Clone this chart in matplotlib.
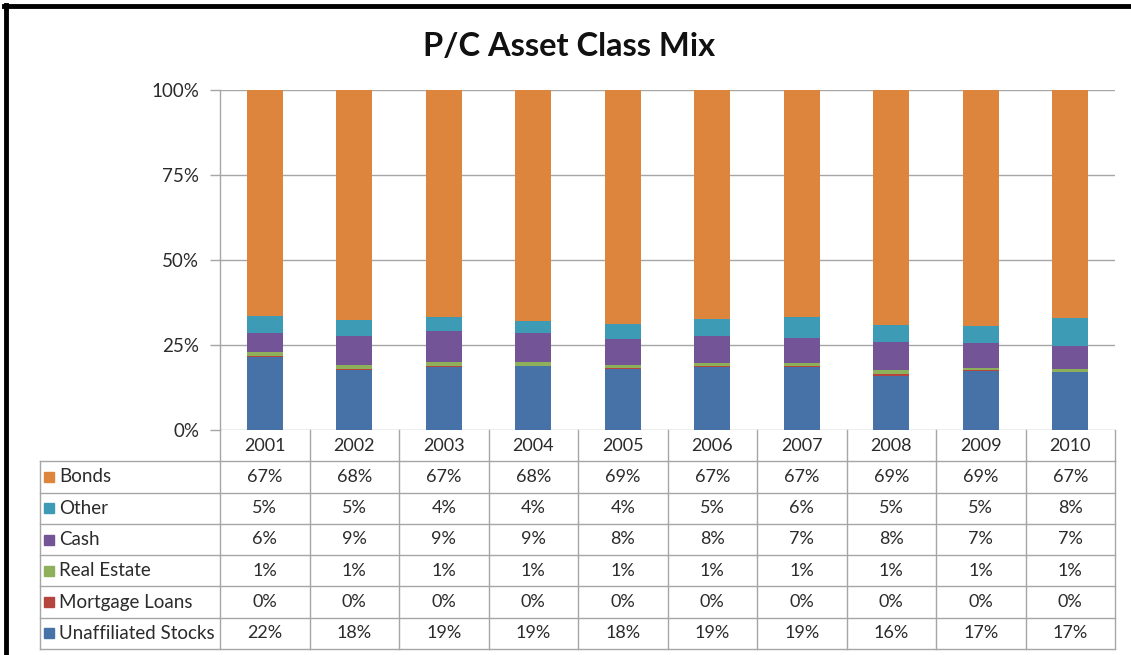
import matplotlib
matplotlib.use("Agg")
import matplotlib.pyplot as plt
import numpy as np
from matplotlib.lines import Line2D

# ---------------- data ----------------
years = ["2001", "2002", "2003", "2004", "2005", "2006", "2007", "2008", "2009", "2010"]
unaffiliated_stocks = [21.6, 17.7, 18.6, 18.8, 17.9, 18.6, 18.6, 16.0, 17.4, 17.0]
mortgage_loans      = [0.3, 0.2, 0.3, 0.2, 0.2, 0.2, 0.2, 0.4, 0.2, 0.2]
real_estate         = [1.0, 1.1, 1.2, 1.0, 0.9, 0.9, 0.9, 1.3, 0.7, 0.8]
cash                = [5.6, 8.8, 9.1, 8.6, 7.8, 8.1, 7.4, 8.1, 7.4, 6.7]
other               = [5.0, 4.7, 4.0, 3.7, 4.4, 4.9, 6.0, 5.2, 4.9, 8.2]
bonds               = [66.6, 67.6, 67.0, 68.1, 68.6, 67.4, 66.8, 69.1, 69.4, 67.3]

series_names = ["Unaffiliated Stocks", "Mortgage Loans", "Real Estate", "Cash", "Other", "Bonds"]
series_vals = [unaffiliated_stocks, mortgage_loans, real_estate, cash, other, bonds]
colors = ["#4672A8", "#B5443F", "#8FB05A", "#735597", "#3E9BB5", "#DE853D"]
yticks = [0, 25, 50, 75, 100]
ytick_labels = ["0%", "25%", "50%", "75%", "100%"]
title = "P/C Asset Class Mix"

FONT = ["Lato", "DejaVu Sans"]
plt.rcParams["font.family"] = FONT
TXT = "#2b2b2b"
GRID = "#A6A6A6"
FS = 13

W, H = 1131, 655
fig = plt.figure(figsize=(W / 100, H / 100), dpi=100)

def fx(px):
    return px / W

def fy(py):
    return 1 - py / H

# axes for bars
ax_l, ax_r, ax_t, ax_b = 220, 1115, 90, 430
ax = fig.add_axes([fx(ax_l), fy(ax_b), (ax_r - ax_l) / W, (ax_b - ax_t) / H])
x = np.arange(len(years))
data = np.array(series_vals, dtype=float)
totals = data.sum(axis=0)
pct = data / totals * 100
bottom = np.zeros(len(years))
for name, vals, col in zip(series_names, pct, colors):
    ax.bar(x, vals, bottom=bottom, width=0.4, color=col, label=name, zorder=3)
    bottom += vals

ax.set_xlim(-0.5, len(years) - 0.5)
ax.set_ylim(0, 100)
ax.set_yticks(yticks)
ax.set_yticklabels(ytick_labels, fontsize=13.5, color=TXT)
ax.set_xticks([])
ax.yaxis.grid(True, color=GRID, linewidth=1.0, zorder=0)
ax.tick_params(axis="y", length=7, width=1.0, color=GRID, pad=8)
for s in ["top", "right", "bottom"]:
    ax.spines[s].set_visible(False)
ax.spines["left"].set_color(GRID)
ax.spines["left"].set_linewidth(1.0)

# title
fig.text(fx(569), fy(46), title, ha="center", va="center", fontsize=23.5,
         fontweight="bold", color="#111111")

# data table
col_w = (ax_r - ax_l) / len(years)
tab_l, tab_t, tab_b = 40, 430, 649
tax = fig.add_axes([fx(tab_l), fy(tab_b), (ax_r - tab_l) / W, (tab_b - tab_t) / H])
xmin = -0.5 - (ax_l - tab_l) / col_w
nrows = len(series_names) + 1
tax.set_xlim(xmin, len(years) - 0.5)
tax.set_ylim(nrows, 0)
tax.axis("off")

def px2x(px):
    return xmin + (px - tab_l) / col_w

lw = 1.0
# header row verticals
for k in range(len(years) + 1):
    tax.add_line(Line2D([-0.5 + k, -0.5 + k], [0, 1], color=GRID, lw=lw, clip_on=False))
# body horizontals
for r in range(1, nrows + 1):
    tax.add_line(Line2D([xmin, len(years) - 0.5], [r, r], color=GRID, lw=lw, clip_on=False))
# body verticals
for xv in [xmin] + [-0.5 + k for k in range(len(years) + 1)]:
    tax.add_line(Line2D([xv, xv], [1, nrows], color=GRID, lw=lw, clip_on=False))

for i, yr in enumerate(years):
    tax.text(i, 0.5, yr, ha="center", va="center", fontsize=FS, color=TXT)

table_order = list(range(len(series_names)))[::-1]  # Bonds first
for r, si in enumerate(table_order, start=1):
    tax.plot([px2x(49)], [r + 0.5], marker="s", markersize=7, color=colors[si],
             linestyle="none", clip_on=False)
    tax.text(px2x(59), r + 0.5, series_names[si], ha="left", va="center",
             fontsize=13.5, color=TXT)
    for i in range(len(years)):
        tax.text(i, r + 0.5, f"{series_vals[si][i]:.0f}%", ha="center", va="center",
                 fontsize=FS, color=TXT)

# border (top and left)
fig.add_artist(Line2D([fx(4), fx(W)], [fy(6), fy(6)], color="black", lw=3.5,
                      transform=fig.transFigure))
fig.add_artist(Line2D([fx(5.5), fx(5.5)], [fy(4.5), fy(H)], color="black", lw=3.5,
                      transform=fig.transFigure))

fig.savefig("out.png", dpi=100)
